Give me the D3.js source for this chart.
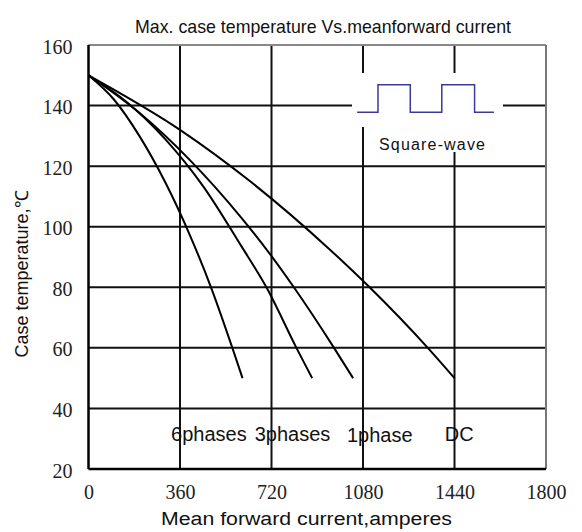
<!DOCTYPE html>
<html>
<head>
<meta charset="utf-8">
<script src="https://cdn.jsdelivr.net/npm/d3@7"></script>
<style>
  body { margin: 0; background: #fff; }
  svg { display: block; }
  .tick text { font-family: "Liberation Serif", "Times New Roman", serif; font-size: 20px; fill: #222; }
  .lbl { font-family: "Liberation Sans", Arial, sans-serif; fill: #111; }
</style>
</head>
<body>
<div id="chart"></div>
<script>
// tick values
var xTicks = [0, 360, 720, 1080, 1440, 1800];
var yTicks = [20, 40, 60, 80, 100, 120, 140, 160];

// curves: current (A) / case temperature (C)
var sixPhaseI   = [0, 100, 200, 300, 400, 482, 566, 606];
var sixPhaseT   = [150, 142, 130, 115, 97, 80, 60, 50];
var threePhaseI = [0, 150, 300, 450, 602, 700, 818, 880];
var threePhaseT = [150, 141.2, 129.1, 113.5, 93.5, 80, 60, 50];
var onePhaseI   = [0, 200, 400, 600, 703, 808, 966, 1041];
var onePhaseT   = [150, 137.6, 121.9, 103.1, 92.2, 80, 60, 50];
var dcI         = [0, 360, 636, 949, 1106, 1335, 1440];
var dcT         = [150, 132, 115, 92.5, 80, 60, 50];

// curve names and where their labels sit
var curveNames = ["6phases", "3phases", "1phase", "DC"];
var labelI = [325, 654, 1017, 1402];
var labelT = [29.3, 29.3, 28.9, 29.3];

// inset square wave (drawn in data units)
var waveI = [1057, 1139, 1139, 1266, 1266, 1390, 1390, 1519, 1519, 1595];
var waveT = [137.8, 137.8, 146.9, 146.9, 137.8, 137.8, 146.9, 146.9, 137.8, 137.8];

var width = 582, height = 532;
var margin = {left: 88.5, right: 36, top: 45, bottom: 63};

var svg = d3.select("#chart").append("svg")
  .attr("width", width)
  .attr("height", height);

var x = d3.scaleLinear().domain([0, 1800]).range([margin.left, width - margin.right]);
var y = d3.scaleLinear().domain([20, 160]).range([height - margin.bottom, margin.top]);

// grid
svg.append("g").selectAll("line")
  .data(yTicks.slice(1, -1))
  .enter().append("line")
  .attr("x1", x(0)).attr("x2", x(1800))
  .attr("y1", function(d){ return y(d); }).attr("y2", function(d){ return y(d); })
  .attr("stroke", "#111").attr("stroke-width", 2);

svg.append("g").selectAll("line")
  .data(xTicks.slice(1, -1))
  .enter().append("line")
  .attr("y1", y(20)).attr("y2", y(160))
  .attr("x1", function(d){ return x(d); }).attr("x2", function(d){ return x(d); })
  .attr("stroke", "#111").attr("stroke-width", 2);

// frame: top / right grey, left / bottom black
svg.append("line").attr("x1", x(0)).attr("x2", x(1800)).attr("y1", y(160)).attr("y2", y(160))
  .attr("stroke", "#888").attr("stroke-width", 2);
svg.append("line").attr("x1", x(1800)).attr("x2", x(1800)).attr("y1", y(160)).attr("y2", y(20))
  .attr("stroke", "#777").attr("stroke-width", 2);
svg.append("line").attr("x1", x(0)).attr("x2", x(1800)).attr("y1", y(20)).attr("y2", y(20))
  .attr("stroke", "#000").attr("stroke-width", 2.5);
svg.append("line").attr("x1", x(0)).attr("x2", x(0)).attr("y1", y(160)).attr("y2", y(20))
  .attr("stroke", "#000").attr("stroke-width", 2.5);

// inset: white boxes then wave + text
svg.append("rect").attr("x", 352).attr("y", 73).attr("width", 151).attr("height", 54).attr("fill", "#fff");
svg.append("rect").attr("x", 370).attr("y", 127).attr("width", 125).attr("height", 25).attr("fill", "#fff");

var waveLine = d3.line()
  .x(function(d, i){ return x(waveI[i]); })
  .y(function(d, i){ return y(waveT[i]); });

svg.append("path")
  .attr("d", waveLine(waveI))
  .attr("fill", "none")
  .attr("stroke", "#3a3a9c")
  .attr("stroke-width", 1.5);

svg.append("text")
  .attr("class", "lbl")
  .attr("x", 379).attr("y", 150)
  .attr("font-size", 16)
  .attr("textLength", 106)
  .attr("lengthAdjust", "spacing")
  .text("Square-wave");

// curves
var curves = [
  [sixPhaseI, sixPhaseT],
  [threePhaseI, threePhaseT],
  [onePhaseI, onePhaseT],
  [dcI, dcT]
];

var line = d3.line()
  .x(function(d){ return x(d[0]); })
  .y(function(d){ return y(d[1]); })
  .curve(d3.curveMonotoneX);

curves.forEach(function(c){
  var pts = c[0].map(function(v, i){ return [v, c[1][i]]; });
  svg.append("path")
    .attr("d", line(pts))
    .attr("fill", "none")
    .attr("stroke", "#000")
    .attr("stroke-width", 2);
});

// curve labels
svg.append("g").selectAll("text")
  .data(curveNames)
  .enter().append("text")
  .attr("class", "lbl")
  .attr("font-size", 20)
  .attr("x", function(d, i){ return x(labelI[i]); })
  .attr("y", function(d, i){ return y(labelT[i]); })
  .text(function(d){ return d; });

// axes (labels only)
var xAxis = svg.append("g")
  .attr("transform", "translate(0," + y(20) + ")")
  .call(d3.axisBottom(x).tickValues(xTicks).tickSize(0).tickPadding(16).tickFormat(d3.format("d")));
xAxis.select(".domain").remove();

var yAxis = svg.append("g")
  .attr("transform", "translate(" + x(0) + ",0)")
  .call(d3.axisLeft(y).tickValues(yTicks).tickSize(0).tickPadding(16).tickFormat(d3.format("d")));
yAxis.select(".domain").remove();
yAxis.selectAll(".tick text").attr("dy", "0.4em");

// titles
svg.append("text")
  .attr("class", "lbl")
  .attr("x", 135).attr("y", 33)
  .attr("font-size", 19)
  .attr("textLength", 376)
  .attr("lengthAdjust", "spacingAndGlyphs")
  .text("Max. case temperature Vs.meanforward current");

svg.append("text")
  .attr("class", "lbl")
  .attr("x", 161).attr("y", 525)
  .attr("font-size", 18)
  .attr("textLength", 291)
  .attr("lengthAdjust", "spacingAndGlyphs")
  .text("Mean forward current,amperes");

svg.append("text")
  .attr("class", "lbl")
  .attr("transform", "translate(28,274) rotate(-90)")
  .attr("text-anchor", "middle")
  .attr("font-size", 18)
  .text("Case temperature,℃");
</script>
</body>
</html>
